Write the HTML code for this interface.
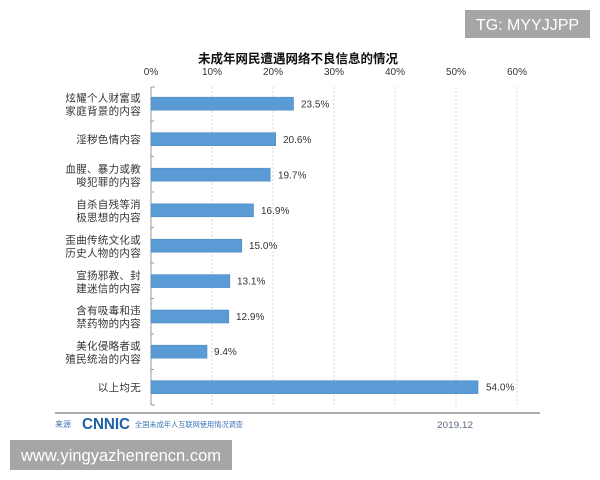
<!DOCTYPE html>
<html><head><meta charset="utf-8"><style>
html,body{margin:0;padding:0;background:#fff;}
svg{display:block;}
</style></head><body>
<svg width="600" height="480" viewBox="0 0 600 480" xmlns="http://www.w3.org/2000/svg">
<rect width="600" height="480" fill="#ffffff"/>
<!-- TG box -->
<rect x="465" y="10" width="125" height="28" fill="#a6a6a6"/>
<text x="527.5" y="30" text-anchor="middle" font-family="Liberation Sans, sans-serif" font-size="16" fill="#ffffff">TG: MYYJJPP</text>
<!-- Title -->
<text x="298" y="63" text-anchor="middle" font-family="Liberation Sans, 'Noto Sans CJK SC', sans-serif" font-weight="bold" font-size="12.5" fill="#111">未成年网民遭遇网络不良信息的情况</text>
<!-- axis tick labels -->
<g font-family="Liberation Sans, sans-serif" font-size="10" fill="#333" text-anchor="middle">
<text x="151" y="75">0%</text>
<text x="212" y="75">10%</text>
<text x="273" y="75">20%</text>
<text x="334" y="75">30%</text>
<text x="395" y="75">40%</text>
<text x="456" y="75">50%</text>
<text x="517" y="75">60%</text>
</g>
<!-- gridlines -->
<g stroke="#d4d4d4" stroke-width="1" stroke-dasharray="2,2">
<line x1="212" y1="87" x2="212" y2="405"/>
<line x1="273" y1="87" x2="273" y2="405"/>
<line x1="334" y1="87" x2="334" y2="405"/>
<line x1="395" y1="87" x2="395" y2="405"/>
<line x1="456" y1="87" x2="456" y2="405"/>
<line x1="517" y1="87" x2="517" y2="405"/>
</g>
<!-- axis -->
<line x1="151" y1="87" x2="151" y2="405" stroke="#999" stroke-width="1"/>
<g stroke="#999" stroke-width="1">
<line x1="151" y1="87" x2="155" y2="87"/>
<line x1="151" y1="121" x2="154" y2="121"/>
<line x1="151" y1="156.5" x2="154" y2="156.5"/>
<line x1="151" y1="192" x2="154" y2="192"/>
<line x1="151" y1="227.5" x2="154" y2="227.5"/>
<line x1="151" y1="263" x2="154" y2="263"/>
<line x1="151" y1="298.5" x2="154" y2="298.5"/>
<line x1="151" y1="334" x2="154" y2="334"/>
<line x1="151" y1="369.5" x2="154" y2="369.5"/>
<line x1="151" y1="405" x2="155" y2="405"/>
</g>
<!-- bars -->
<g fill="#5b9bd5" stroke="#4f8cc6" stroke-width="0.6">
<rect x="151" y="97.2" width="142.5" height="13"/>
<rect x="151" y="132.7" width="124.7" height="13"/>
<rect x="151" y="168.2" width="119.2" height="13"/>
<rect x="151" y="203.8" width="102.5" height="13"/>
<rect x="151" y="239.2" width="90.8" height="13"/>
<rect x="151" y="274.6" width="78.8" height="13"/>
<rect x="151" y="310" width="77.8" height="13"/>
<rect x="151" y="345.2" width="56" height="13"/>
<rect x="151" y="380.7" width="327" height="13"/>
</g>
<!-- value labels -->
<g font-family="Liberation Sans, sans-serif" font-size="10" fill="#333">
<text x="301" y="107.3">23.5%</text>
<text x="283" y="142.8">20.6%</text>
<text x="278" y="178.3">19.7%</text>
<text x="261" y="213.9">16.9%</text>
<text x="249" y="249.2">15.0%</text>
<text x="237" y="284.7">13.1%</text>
<text x="236" y="320">12.9%</text>
<text x="214" y="355.2">9.4%</text>
<text x="486" y="390.7">54.0%</text>
</g>
<!-- category labels -->
<g font-family="Liberation Sans, 'Noto Sans CJK SC', sans-serif" font-size="10.5" fill="#333" text-anchor="end" letter-spacing="0.3">
<text x="141" y="101.5">炫耀个人财富或</text>
<text x="141" y="114.5">家庭背景的内容</text>
<text x="141" y="143">淫秽色情内容</text>
<text x="141" y="172.5">血腥、暴力或教</text>
<text x="141" y="185.5">唆犯罪的内容</text>
<text x="141" y="208">自杀自残等消</text>
<text x="141" y="221">极思想的内容</text>
<text x="141" y="243.3">歪曲传统文化或</text>
<text x="141" y="256.3">历史人物的内容</text>
<text x="141" y="278.8">宣扬邪教、封</text>
<text x="141" y="291.8">建迷信的内容</text>
<text x="141" y="314">含有吸毒和违</text>
<text x="141" y="327">禁药物的内容</text>
<text x="141" y="349.3">美化侵略者或</text>
<text x="141" y="362.3">殖民统治的内容</text>
<text x="141" y="391">以上均无</text>
</g>
<!-- footer -->
<line x1="55" y1="413" x2="540" y2="413" stroke="#aaaaaa" stroke-width="2"/>
<text x="55" y="427" font-family="Liberation Sans, 'Noto Sans CJK SC', sans-serif" font-size="8" fill="#3b76b5">来源</text>
<text x="82" y="429" font-family="Liberation Sans, sans-serif" font-weight="bold" font-size="16" fill="#1d5fa8" textLength="48" lengthAdjust="spacingAndGlyphs">CNNIC</text>
<text x="135" y="427" font-family="Liberation Sans, 'Noto Sans CJK SC', sans-serif" font-size="7.5" fill="#3b76b5" textLength="108" lengthAdjust="spacingAndGlyphs">全国未成年人互联网使用情况调查</text>
<text x="437" y="428" font-family="Liberation Sans, sans-serif" font-size="9.5" fill="#5a6a80" textLength="36" lengthAdjust="spacingAndGlyphs">2019.12</text>
<!-- bottom watermark box -->
<rect x="10" y="440" width="222" height="30" fill="#a6a6a6"/>
<text x="21" y="461" font-family="Liberation Sans, sans-serif" font-size="17" fill="#ffffff" textLength="200" lengthAdjust="spacingAndGlyphs">www.yingyazhenrencn.com</text>
</svg>
</body></html>
